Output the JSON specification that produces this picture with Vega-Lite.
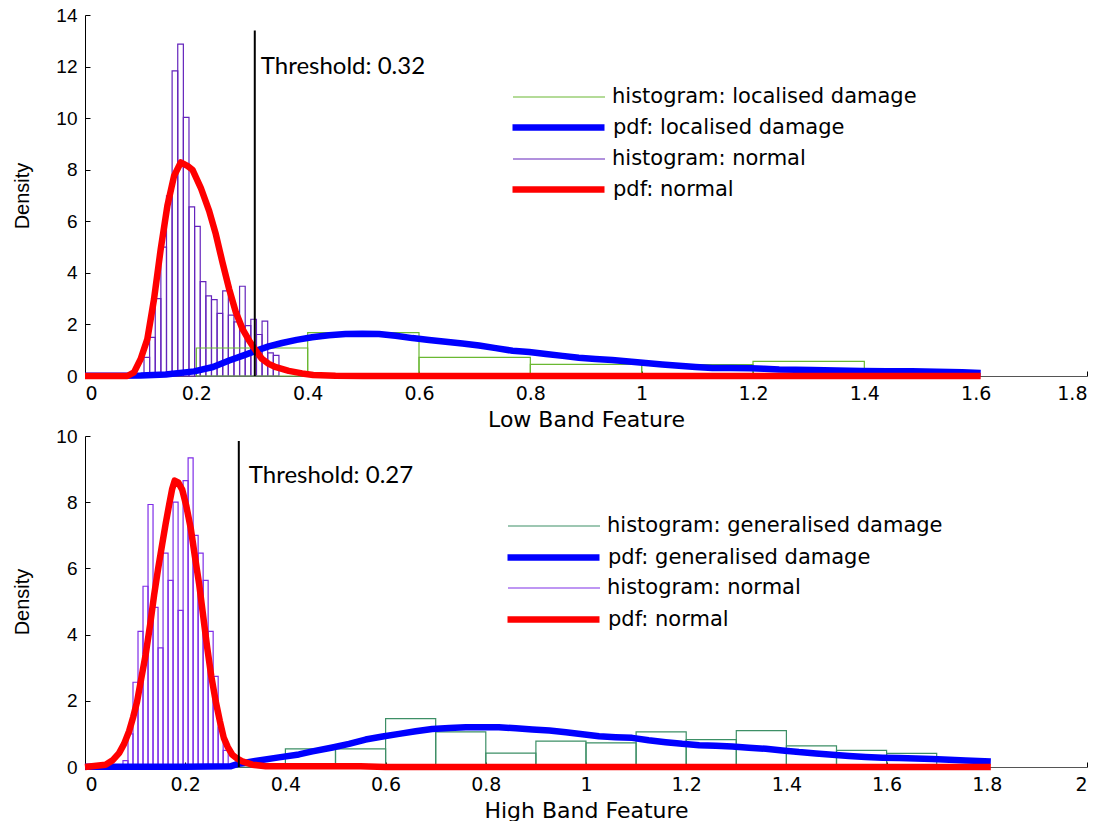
{
  "$schema": "https://vega.github.io/schema/vega-lite/v6.json",
  "background": "white",
  "padding": {"left": 12, "top": 6, "right": 10, "bottom": 0},
  "spacing": -3,
  "config": {
    "view": {"stroke": null},
    "axis": {"labelFont": "Liberation Sans", "labelFontSize": 19, "labelColor": "#000", "domainColor": "#000", "tickColor": "#000", "tickSize": -5, "labelPadding": 13, "grid": false, "titleFont": "DejaVu Sans", "titleFontWeight": "normal", "titleFontSize": 22, "titleColor": "#000"},
    "axisX": {"labelFont": "DejaVu Sans", "titlePadding": 6},
    "axisY": {"titleFont": "Liberation Sans", "titleFontSize": 20, "titlePadding": 23},
    "legend": {"symbolType": "M-4.6,0H4.6", "symbolSize": 400, "labelFont": "DejaVu Sans", "labelFontSize": 21, "labelColor": "#000", "labelOffset": 42, "labelLimit": 0, "rowPadding": 41, "padding": 0}
  },
  "datasets": {
    "histTop": [
      {"x0": 0.106, "x1": 0.1161, "d": 0.72, "s": "histogram: normal"},
      {"x0": 0.1161, "x1": 0.1262, "d": 1.5, "s": "histogram: normal"},
      {"x0": 0.1262, "x1": 0.1363, "d": 3.0, "s": "histogram: normal"},
      {"x0": 0.1363, "x1": 0.1464, "d": 5.0, "s": "histogram: normal"},
      {"x0": 0.1464, "x1": 0.1565, "d": 6.99, "s": "histogram: normal"},
      {"x0": 0.1565, "x1": 0.1666, "d": 11.83, "s": "histogram: normal"},
      {"x0": 0.1666, "x1": 0.1767, "d": 12.87, "s": "histogram: normal"},
      {"x0": 0.1767, "x1": 0.1868, "d": 10.03, "s": "histogram: normal"},
      {"x0": 0.1868, "x1": 0.1969, "d": 6.56, "s": "histogram: normal"},
      {"x0": 0.1969, "x1": 0.207, "d": 5.8, "s": "histogram: normal"},
      {"x0": 0.207, "x1": 0.2171, "d": 3.66, "s": "histogram: normal"},
      {"x0": 0.2171, "x1": 0.2272, "d": 3.11, "s": "histogram: normal"},
      {"x0": 0.2272, "x1": 0.2373, "d": 2.96, "s": "histogram: normal"},
      {"x0": 0.2373, "x1": 0.2474, "d": 2.43, "s": "histogram: normal"},
      {"x0": 0.2474, "x1": 0.2575, "d": 3.3, "s": "histogram: normal"},
      {"x0": 0.2575, "x1": 0.2676, "d": 2.36, "s": "histogram: normal"},
      {"x0": 0.2676, "x1": 0.2777, "d": 2.1, "s": "histogram: normal"},
      {"x0": 0.2777, "x1": 0.2878, "d": 3.48, "s": "histogram: normal"},
      {"x0": 0.2878, "x1": 0.2979, "d": 1.95, "s": "histogram: normal"},
      {"x0": 0.2979, "x1": 0.308, "d": 2.2, "s": "histogram: normal"},
      {"x0": 0.308, "x1": 0.3181, "d": 1.61, "s": "histogram: normal"},
      {"x0": 0.3181, "x1": 0.3282, "d": 2.13, "s": "histogram: normal"},
      {"x0": 0.3282, "x1": 0.3383, "d": 0.9, "s": "histogram: normal"},
      {"x0": 0.3383, "x1": 0.3484, "d": 0.8, "s": "histogram: normal"},
      {"x0": 0.2, "x1": 0.4, "d": 1.085, "s": "histogram: localised damage"},
      {"x0": 0.4, "x1": 0.6, "d": 1.68, "s": "histogram: localised damage"},
      {"x0": 0.6, "x1": 0.8, "d": 0.72, "s": "histogram: localised damage"},
      {"x0": 0.8, "x1": 1.0, "d": 0.45, "s": "histogram: localised damage"},
      {"x0": 1.0, "x1": 1.2, "d": 0.44, "s": "histogram: localised damage"},
      {"x0": 1.2, "x1": 1.4, "d": 0.57, "s": "histogram: localised damage"},
      {"x0": 1.4, "x1": 1.6, "d": 0.1, "s": "histogram: localised damage"}
    ],
    "pdfTop": [
      {"x": 0, "y": 0.01, "s": "pdf: localised damage"},
      {"x": 0.05, "y": 0.01, "s": "pdf: localised damage"},
      {"x": 0.1, "y": 0.02, "s": "pdf: localised damage"},
      {"x": 0.145, "y": 0.06, "s": "pdf: localised damage"},
      {"x": 0.196, "y": 0.18, "s": "pdf: localised damage"},
      {"x": 0.23, "y": 0.35, "s": "pdf: localised damage"},
      {"x": 0.259, "y": 0.6, "s": "pdf: localised damage"},
      {"x": 0.285, "y": 0.8, "s": "pdf: localised damage"},
      {"x": 0.307, "y": 0.98, "s": "pdf: localised damage"},
      {"x": 0.33, "y": 1.15, "s": "pdf: localised damage"},
      {"x": 0.354, "y": 1.28, "s": "pdf: localised damage"},
      {"x": 0.38, "y": 1.4, "s": "pdf: localised damage"},
      {"x": 0.408, "y": 1.5, "s": "pdf: localised damage"},
      {"x": 0.438, "y": 1.58, "s": "pdf: localised damage"},
      {"x": 0.468, "y": 1.63, "s": "pdf: localised damage"},
      {"x": 0.498, "y": 1.64, "s": "pdf: localised damage"},
      {"x": 0.528, "y": 1.63, "s": "pdf: localised damage"},
      {"x": 0.558, "y": 1.56, "s": "pdf: localised damage"},
      {"x": 0.588, "y": 1.47, "s": "pdf: localised damage"},
      {"x": 0.618, "y": 1.4, "s": "pdf: localised damage"},
      {"x": 0.648, "y": 1.33, "s": "pdf: localised damage"},
      {"x": 0.678, "y": 1.26, "s": "pdf: localised damage"},
      {"x": 0.708, "y": 1.18, "s": "pdf: localised damage"},
      {"x": 0.738, "y": 1.08, "s": "pdf: localised damage"},
      {"x": 0.768, "y": 0.98, "s": "pdf: localised damage"},
      {"x": 0.798, "y": 0.93, "s": "pdf: localised damage"},
      {"x": 0.828, "y": 0.85, "s": "pdf: localised damage"},
      {"x": 0.858, "y": 0.78, "s": "pdf: localised damage"},
      {"x": 0.887, "y": 0.71, "s": "pdf: localised damage"},
      {"x": 0.917, "y": 0.66, "s": "pdf: localised damage"},
      {"x": 0.947, "y": 0.62, "s": "pdf: localised damage"},
      {"x": 0.977, "y": 0.56, "s": "pdf: localised damage"},
      {"x": 1.007, "y": 0.5, "s": "pdf: localised damage"},
      {"x": 1.037, "y": 0.45, "s": "pdf: localised damage"},
      {"x": 1.067, "y": 0.4, "s": "pdf: localised damage"},
      {"x": 1.097, "y": 0.35, "s": "pdf: localised damage"},
      {"x": 1.127, "y": 0.31, "s": "pdf: localised damage"},
      {"x": 1.16, "y": 0.31, "s": "pdf: localised damage"},
      {"x": 1.196, "y": 0.3, "s": "pdf: localised damage"},
      {"x": 1.22, "y": 0.28, "s": "pdf: localised damage"},
      {"x": 1.247, "y": 0.25, "s": "pdf: localised damage"},
      {"x": 1.306, "y": 0.23, "s": "pdf: localised damage"},
      {"x": 1.35, "y": 0.21, "s": "pdf: localised damage"},
      {"x": 1.396, "y": 0.19, "s": "pdf: localised damage"},
      {"x": 1.44, "y": 0.185, "s": "pdf: localised damage"},
      {"x": 1.486, "y": 0.18, "s": "pdf: localised damage"},
      {"x": 1.53, "y": 0.165, "s": "pdf: localised damage"},
      {"x": 1.576, "y": 0.15, "s": "pdf: localised damage"},
      {"x": 1.609, "y": 0.12, "s": "pdf: localised damage"},
      {"x": 0, "y": 0, "s": "pdf: normal"},
      {"x": 0.076, "y": 0, "s": "pdf: normal"},
      {"x": 0.088, "y": 0.14, "s": "pdf: normal"},
      {"x": 0.1, "y": 0.66, "s": "pdf: normal"},
      {"x": 0.112, "y": 1.43, "s": "pdf: normal"},
      {"x": 0.124, "y": 2.98, "s": "pdf: normal"},
      {"x": 0.136, "y": 4.92, "s": "pdf: normal"},
      {"x": 0.148, "y": 6.6, "s": "pdf: normal"},
      {"x": 0.16, "y": 7.76, "s": "pdf: normal"},
      {"x": 0.172, "y": 8.28, "s": "pdf: normal"},
      {"x": 0.184, "y": 8.15, "s": "pdf: normal"},
      {"x": 0.193, "y": 8.0, "s": "pdf: normal"},
      {"x": 0.208, "y": 7.3, "s": "pdf: normal"},
      {"x": 0.223, "y": 6.4, "s": "pdf: normal"},
      {"x": 0.235, "y": 5.5, "s": "pdf: normal"},
      {"x": 0.247, "y": 4.4, "s": "pdf: normal"},
      {"x": 0.259, "y": 3.37, "s": "pdf: normal"},
      {"x": 0.271, "y": 2.47, "s": "pdf: normal"},
      {"x": 0.283, "y": 1.82, "s": "pdf: normal"},
      {"x": 0.295, "y": 1.37, "s": "pdf: normal"},
      {"x": 0.307, "y": 0.98, "s": "pdf: normal"},
      {"x": 0.318, "y": 0.66, "s": "pdf: normal"},
      {"x": 0.33, "y": 0.47, "s": "pdf: normal"},
      {"x": 0.343, "y": 0.34, "s": "pdf: normal"},
      {"x": 0.366, "y": 0.2, "s": "pdf: normal"},
      {"x": 0.39, "y": 0.1, "s": "pdf: normal"},
      {"x": 0.41, "y": 0.04, "s": "pdf: normal"},
      {"x": 0.45, "y": 0.01, "s": "pdf: normal"},
      {"x": 0.5, "y": 0, "s": "pdf: normal"},
      {"x": 1.0, "y": 0, "s": "pdf: normal"},
      {"x": 1.609, "y": 0, "s": "pdf: normal"}
    ],
    "thrTop": [{"t": 0.305, "top": 13.4, "ly": 12.0, "label": "Threshold: 0.32"}],
    "histBot": [
      {"x0": 0.0758, "x1": 0.0858, "d": 0.19, "s": "histogram: normal"},
      {"x0": 0.0858, "x1": 0.0958, "d": 1.0, "s": "histogram: normal"},
      {"x0": 0.0958, "x1": 0.1058, "d": 2.56, "s": "histogram: normal"},
      {"x0": 0.1058, "x1": 0.1158, "d": 4.1, "s": "histogram: normal"},
      {"x0": 0.1158, "x1": 0.1258, "d": 5.46, "s": "histogram: normal"},
      {"x0": 0.1258, "x1": 0.1358, "d": 7.93, "s": "histogram: normal"},
      {"x0": 0.1358, "x1": 0.1458, "d": 4.82, "s": "histogram: normal"},
      {"x0": 0.1458, "x1": 0.1558, "d": 3.6, "s": "histogram: normal"},
      {"x0": 0.1558, "x1": 0.1658, "d": 6.46, "s": "histogram: normal"},
      {"x0": 0.1658, "x1": 0.1758, "d": 5.64, "s": "histogram: normal"},
      {"x0": 0.1758, "x1": 0.1858, "d": 8.0, "s": "histogram: normal"},
      {"x0": 0.1858, "x1": 0.1958, "d": 4.73, "s": "histogram: normal"},
      {"x0": 0.1958, "x1": 0.2058, "d": 8.65, "s": "histogram: normal"},
      {"x0": 0.2058, "x1": 0.2158, "d": 9.34, "s": "histogram: normal"},
      {"x0": 0.2158, "x1": 0.2258, "d": 7.0, "s": "histogram: normal"},
      {"x0": 0.2258, "x1": 0.2358, "d": 6.46, "s": "histogram: normal"},
      {"x0": 0.2358, "x1": 0.2458, "d": 5.64, "s": "histogram: normal"},
      {"x0": 0.2458, "x1": 0.2558, "d": 4.1, "s": "histogram: normal"},
      {"x0": 0.2558, "x1": 0.2658, "d": 2.74, "s": "histogram: normal"},
      {"x0": 0.2658, "x1": 0.2758, "d": 1.2, "s": "histogram: normal"},
      {"x0": 0.2758, "x1": 0.2858, "d": 0.5, "s": "histogram: normal"},
      {"x0": 0.3, "x1": 0.4, "d": 0.08, "s": "histogram: generalised damage"},
      {"x0": 0.4, "x1": 0.5, "d": 0.55, "s": "histogram: generalised damage"},
      {"x0": 0.5, "x1": 0.6, "d": 0.55, "s": "histogram: generalised damage"},
      {"x0": 0.6, "x1": 0.7, "d": 1.46, "s": "histogram: generalised damage"},
      {"x0": 0.7, "x1": 0.8, "d": 1.06, "s": "histogram: generalised damage"},
      {"x0": 0.8, "x1": 0.9, "d": 0.42, "s": "histogram: generalised damage"},
      {"x0": 0.9, "x1": 1.0, "d": 0.78, "s": "histogram: generalised damage"},
      {"x0": 1.0, "x1": 1.1, "d": 0.73, "s": "histogram: generalised damage"},
      {"x0": 1.1, "x1": 1.2, "d": 1.06, "s": "histogram: generalised damage"},
      {"x0": 1.2, "x1": 1.3, "d": 0.83, "s": "histogram: generalised damage"},
      {"x0": 1.3, "x1": 1.4, "d": 1.1, "s": "histogram: generalised damage"},
      {"x0": 1.4, "x1": 1.5, "d": 0.64, "s": "histogram: generalised damage"},
      {"x0": 1.5, "x1": 1.6, "d": 0.5, "s": "histogram: generalised damage"},
      {"x0": 1.6, "x1": 1.7, "d": 0.41, "s": "histogram: generalised damage"}
    ],
    "pdfBot": [
      {"x": 0, "y": 0.01, "s": "pdf: generalised damage"},
      {"x": 0.1, "y": 0.01, "s": "pdf: generalised damage"},
      {"x": 0.2, "y": 0.01, "s": "pdf: generalised damage"},
      {"x": 0.29, "y": 0.02, "s": "pdf: generalised damage"},
      {"x": 0.307, "y": 0.1, "s": "pdf: generalised damage"},
      {"x": 0.34, "y": 0.18, "s": "pdf: generalised damage"},
      {"x": 0.387, "y": 0.29, "s": "pdf: generalised damage"},
      {"x": 0.427, "y": 0.38, "s": "pdf: generalised damage"},
      {"x": 0.454, "y": 0.47, "s": "pdf: generalised damage"},
      {"x": 0.494, "y": 0.59, "s": "pdf: generalised damage"},
      {"x": 0.527, "y": 0.7, "s": "pdf: generalised damage"},
      {"x": 0.56, "y": 0.83, "s": "pdf: generalised damage"},
      {"x": 0.594, "y": 0.92, "s": "pdf: generalised damage"},
      {"x": 0.627, "y": 1.0, "s": "pdf: generalised damage"},
      {"x": 0.66, "y": 1.08, "s": "pdf: generalised damage"},
      {"x": 0.693, "y": 1.15, "s": "pdf: generalised damage"},
      {"x": 0.727, "y": 1.18, "s": "pdf: generalised damage"},
      {"x": 0.76, "y": 1.2, "s": "pdf: generalised damage"},
      {"x": 0.793, "y": 1.2, "s": "pdf: generalised damage"},
      {"x": 0.826, "y": 1.2, "s": "pdf: generalised damage"},
      {"x": 0.86, "y": 1.17, "s": "pdf: generalised damage"},
      {"x": 0.893, "y": 1.13, "s": "pdf: generalised damage"},
      {"x": 0.927, "y": 1.1, "s": "pdf: generalised damage"},
      {"x": 0.96, "y": 1.05, "s": "pdf: generalised damage"},
      {"x": 0.993, "y": 0.99, "s": "pdf: generalised damage"},
      {"x": 1.026, "y": 0.93, "s": "pdf: generalised damage"},
      {"x": 1.059, "y": 0.9, "s": "pdf: generalised damage"},
      {"x": 1.092, "y": 0.88, "s": "pdf: generalised damage"},
      {"x": 1.125, "y": 0.81, "s": "pdf: generalised damage"},
      {"x": 1.159, "y": 0.75, "s": "pdf: generalised damage"},
      {"x": 1.192, "y": 0.7, "s": "pdf: generalised damage"},
      {"x": 1.226, "y": 0.66, "s": "pdf: generalised damage"},
      {"x": 1.259, "y": 0.64, "s": "pdf: generalised damage"},
      {"x": 1.292, "y": 0.62, "s": "pdf: generalised damage"},
      {"x": 1.325, "y": 0.58, "s": "pdf: generalised damage"},
      {"x": 1.359, "y": 0.55, "s": "pdf: generalised damage"},
      {"x": 1.392, "y": 0.5, "s": "pdf: generalised damage"},
      {"x": 1.425, "y": 0.45, "s": "pdf: generalised damage"},
      {"x": 1.459, "y": 0.41, "s": "pdf: generalised damage"},
      {"x": 1.492, "y": 0.37, "s": "pdf: generalised damage"},
      {"x": 1.525, "y": 0.33, "s": "pdf: generalised damage"},
      {"x": 1.558, "y": 0.3, "s": "pdf: generalised damage"},
      {"x": 1.592, "y": 0.28, "s": "pdf: generalised damage"},
      {"x": 1.625, "y": 0.27, "s": "pdf: generalised damage"},
      {"x": 1.658, "y": 0.255, "s": "pdf: generalised damage"},
      {"x": 1.691, "y": 0.24, "s": "pdf: generalised damage"},
      {"x": 1.725, "y": 0.22, "s": "pdf: generalised damage"},
      {"x": 1.758, "y": 0.2, "s": "pdf: generalised damage"},
      {"x": 1.808, "y": 0.17, "s": "pdf: generalised damage"},
      {"x": 0, "y": 0, "s": "pdf: normal"},
      {"x": 0.041, "y": 0.07, "s": "pdf: normal"},
      {"x": 0.055, "y": 0.2, "s": "pdf: normal"},
      {"x": 0.068, "y": 0.42, "s": "pdf: normal"},
      {"x": 0.078, "y": 0.7, "s": "pdf: normal"},
      {"x": 0.088, "y": 1.08, "s": "pdf: normal"},
      {"x": 0.096, "y": 1.5, "s": "pdf: normal"},
      {"x": 0.104, "y": 1.98, "s": "pdf: normal"},
      {"x": 0.112, "y": 2.65, "s": "pdf: normal"},
      {"x": 0.121, "y": 3.39, "s": "pdf: normal"},
      {"x": 0.13, "y": 4.3, "s": "pdf: normal"},
      {"x": 0.138, "y": 5.2, "s": "pdf: normal"},
      {"x": 0.146, "y": 6.0, "s": "pdf: normal"},
      {"x": 0.154, "y": 6.72, "s": "pdf: normal"},
      {"x": 0.161, "y": 7.35, "s": "pdf: normal"},
      {"x": 0.168, "y": 7.93, "s": "pdf: normal"},
      {"x": 0.174, "y": 8.4, "s": "pdf: normal"},
      {"x": 0.179, "y": 8.65, "s": "pdf: normal"},
      {"x": 0.186, "y": 8.6, "s": "pdf: normal"},
      {"x": 0.194, "y": 8.38, "s": "pdf: normal"},
      {"x": 0.202, "y": 7.9, "s": "pdf: normal"},
      {"x": 0.211, "y": 7.22, "s": "pdf: normal"},
      {"x": 0.219, "y": 6.4, "s": "pdf: normal"},
      {"x": 0.228, "y": 5.51, "s": "pdf: normal"},
      {"x": 0.236, "y": 4.55, "s": "pdf: normal"},
      {"x": 0.244, "y": 3.6, "s": "pdf: normal"},
      {"x": 0.252, "y": 2.75, "s": "pdf: normal"},
      {"x": 0.261, "y": 1.98, "s": "pdf: normal"},
      {"x": 0.269, "y": 1.4, "s": "pdf: normal"},
      {"x": 0.277, "y": 0.88, "s": "pdf: normal"},
      {"x": 0.285, "y": 0.6, "s": "pdf: normal"},
      {"x": 0.294, "y": 0.37, "s": "pdf: normal"},
      {"x": 0.304, "y": 0.25, "s": "pdf: normal"},
      {"x": 0.314, "y": 0.17, "s": "pdf: normal"},
      {"x": 0.334, "y": 0.07, "s": "pdf: normal"},
      {"x": 0.361, "y": 0.02, "s": "pdf: normal"},
      {"x": 0.55, "y": 0.02, "s": "pdf: normal"},
      {"x": 0.6, "y": 0, "s": "pdf: normal"},
      {"x": 1.0, "y": 0, "s": "pdf: normal"},
      {"x": 1.808, "y": 0, "s": "pdf: normal"}
    ],
    "thrBot": [{"t": 0.307, "top": 9.85, "ly": 8.79, "label": "Threshold: 0.27"}]
  },
  "resolve": {"scale": {"stroke": "independent", "color": "independent"}, "legend": {"stroke": "independent", "color": "independent"}},
  "vconcat": [
    {
      "width": 1002,
      "height": 361,
      "layer": [
        {
          "data": {"name": "histTop"},
          "mark": {"type": "rect", "fillOpacity": 0, "strokeWidth": 1.2},
          "encoding": {
            "x": {"field": "x0", "type": "quantitative", "scale": {"domain": [0, 1.8], "nice": false}, "axis": {"values": [0, 0.2, 0.4, 0.6, 0.8, 1, 1.2, 1.4, 1.6, 1.8], "format": "~g", "title": "Low Band Feature", "domainColor": "#555"}},
            "x2": {"field": "x1"},
            "y": {"field": "d", "type": "quantitative", "scale": {"domain": [0, 14], "nice": false}, "axis": {"values": [0, 2, 4, 6, 8, 10, 12, 14], "title": "Density"}},
            "y2": {"datum": 0},
            "stroke": {"field": "s", "type": "nominal", "scale": {"domain": ["histogram: localised damage", "histogram: normal"], "range": ["#6ab832", "#6424bc"]}, "legend": {"title": null, "orient": "none", "legendX": 463, "legendY": 71, "symbolStrokeWidth": 1.2}}
          }
        },
        {
          "data": {"name": "pdfTop"},
          "mark": {"type": "line", "strokeJoin": "round", "strokeWidth": 6.5},
          "encoding": {
            "x": {"field": "x", "type": "quantitative"},
            "y": {"field": "y", "type": "quantitative"},
            "color": {"field": "s", "type": "nominal", "scale": {"domain": ["pdf: localised damage", "pdf: normal"], "range": ["#0000ff", "#ff0000"]}, "legend": {"title": null, "orient": "none", "legendX": 460, "legendY": 99, "symbolStrokeWidth": 6.5, "rowPadding": 35, "labelOffset": 41}}
          }
        },
        {
          "data": {"name": "thrTop"},
          "mark": {"type": "rule", "color": "#000", "strokeWidth": 2},
          "encoding": {
            "x": {"field": "t", "type": "quantitative"},
            "y": {"field": "top", "type": "quantitative"},
            "y2": {"datum": 0}
          }
        },
        {
          "data": {"name": "thrTop"},
          "mark": {"type": "text", "align": "left", "baseline": "middle", "dx": 6, "font": "Lato", "fontSize": 24, "color": "#000"},
          "encoding": {
            "x": {"field": "t", "type": "quantitative"},
            "y": {"field": "ly", "type": "quantitative"},
            "text": {"field": "label"}
          }
        }
      ]
    },
    {
      "width": 1002,
      "height": 331,
      "layer": [
        {
          "data": {"name": "histBot"},
          "mark": {"type": "rect", "fillOpacity": 0, "strokeWidth": 1.2},
          "encoding": {
            "x": {"field": "x0", "type": "quantitative", "scale": {"domain": [0, 2], "nice": false}, "axis": {"values": [0, 0.2, 0.4, 0.6, 0.8, 1, 1.2, 1.4, 1.6, 1.8, 2], "format": "~g", "title": "High Band Feature", "domainColor": "#555"}},
            "x2": {"field": "x1"},
            "y": {"field": "d", "type": "quantitative", "scale": {"domain": [0, 10], "nice": false}, "axis": {"values": [0, 2, 4, 6, 8, 10], "title": "Density"}},
            "y2": {"datum": 0},
            "stroke": {"field": "s", "type": "nominal", "scale": {"domain": ["histogram: generalised damage", "histogram: normal"], "range": ["#3d8f66", "#7f2ee8"]}, "legend": {"title": null, "orient": "none", "legendX": 458, "legendY": 79, "symbolStrokeWidth": 1.2}}
          }
        },
        {
          "data": {"name": "pdfBot"},
          "mark": {"type": "line", "strokeJoin": "round", "strokeWidth": 6.5},
          "encoding": {
            "x": {"field": "x", "type": "quantitative"},
            "y": {"field": "y", "type": "quantitative"},
            "color": {"field": "s", "type": "nominal", "scale": {"domain": ["pdf: generalised damage", "pdf: normal"], "range": ["#0000ff", "#ff0000"]}, "legend": {"title": null, "orient": "none", "legendX": 455, "legendY": 108, "symbolStrokeWidth": 6.5, "rowPadding": 35, "labelOffset": 41}}
          }
        },
        {
          "data": {"name": "thrBot"},
          "mark": {"type": "rule", "color": "#000", "strokeWidth": 2},
          "encoding": {
            "x": {"field": "t", "type": "quantitative"},
            "y": {"field": "top", "type": "quantitative"},
            "y2": {"datum": 0}
          }
        },
        {
          "data": {"name": "thrBot"},
          "mark": {"type": "text", "align": "left", "baseline": "middle", "dx": 10, "font": "Lato", "fontSize": 24, "color": "#000"},
          "encoding": {
            "x": {"field": "t", "type": "quantitative"},
            "y": {"field": "ly", "type": "quantitative"},
            "text": {"field": "label"}
          }
        }
      ]
    }
  ]
}
